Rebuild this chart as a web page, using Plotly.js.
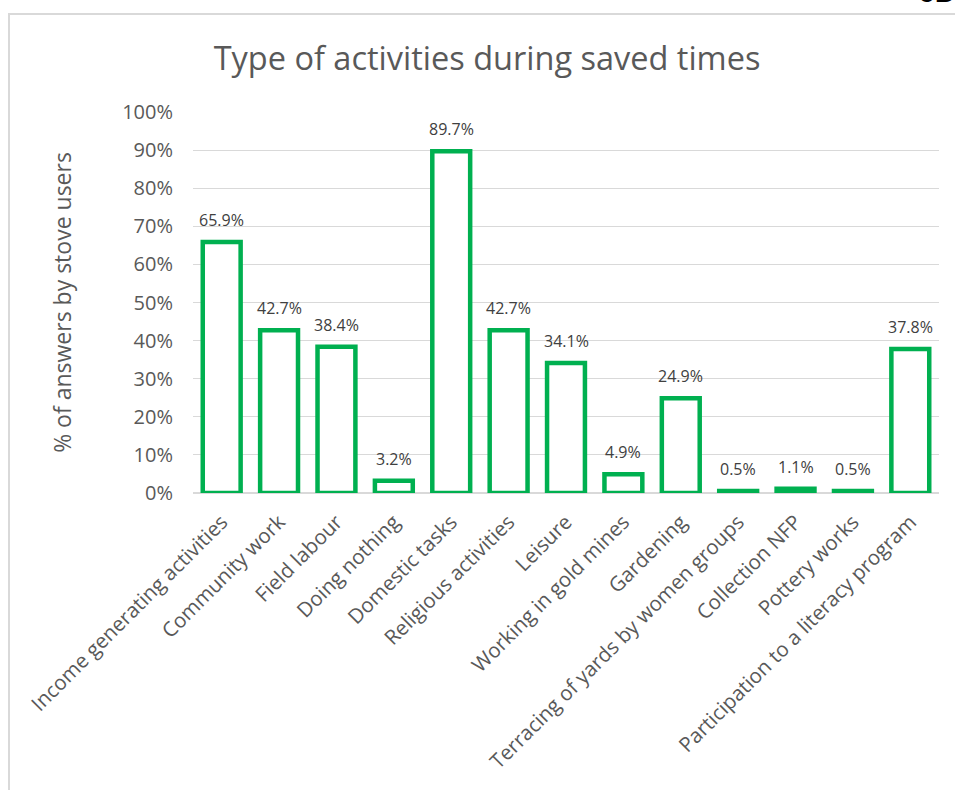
<!DOCTYPE html>
<html>
<head>
<meta charset="utf-8">
<script src="https://cdn.plot.ly/plotly-3.0.1.min.js"></script>
<style>
html,body{margin:0;padding:0;background:#fff;}
#wrap{position:relative;width:955px;height:790px;overflow:hidden;}
#chart{width:955px;height:790px;}
#frame{position:absolute;left:8px;top:13px;width:960px;height:800px;border-left:2px solid #d9d9d9;border-top:2px solid #d9d9d9;pointer-events:none;}
</style>
</head>
<body>
<div id="wrap">
<div id="chart"></div>
<div id="frame"></div>
</div>
<script>
const categories = [
  "Income generating activities",
  "Community work",
  "Field labour",
  "Doing nothing",
  "Domestic tasks",
  "Religious activities",
  "Leisure",
  "Working in gold mines",
  "Gardening",
  "Terracing of yards by women groups",
  "Collection NFP",
  "Pottery works",
  "Participation to a literacy program"
];
const values = [65.9, 42.7, 38.4, 3.2, 89.7, 42.7, 34.1, 4.9, 24.9, 0.5, 1.1, 0.5, 37.8];
const labels = values.map(v => v.toFixed(1) + "%");
const yTickVals = [0,10,20,30,40,50,60,70,80,90,100];
const yTickText = yTickVals.map(v => v + "%");

const FONT = "Open Sans, Liberation Sans, sans-serif";

const trace = {
  type: "bar",
  x: categories,
  y: values,
  marker: {color: "#ffffff", line: {color: "#00B050", width: 4.5}},
  width: 0.66,
  hoverinfo: "none"
};

const valueAnnotations = categories.map((c, i) => ({
  x: c, y: values[i], xref: "x", yref: "y",
  text: labels[i],
  showarrow: false,
  xanchor: "center", yanchor: "bottom",
  yshift: 9,
  font: {family: FONT, size: 16, color: "#404040"}
}));

const layout = {
  width: 955,
  height: 790,
  paper_bgcolor: "#ffffff",
  plot_bgcolor: "#ffffff",
  margin: {l: 193, r: 16, t: 112, b: 297},
  showlegend: false,
  title: {
    text: "Type of activities during saved times",
    font: {family: FONT, size: 32.5, color: "#595959"},
    x: 0.51, xanchor: "center",
    y: 0.926, yanchor: "middle"
  },
  xaxis: {
    type: "category",
    tickangle: -45,
    tickfont: {family: FONT, size: 20.5, color: "#595959"},
    showgrid: false,
    showline: false,
    ticks: "",
    ticklabelstandoff: 12,
    automargin: false
  },
  yaxis: {
    range: [0, 100],
    tickvals: yTickVals,
    ticktext: yTickText,
    tickfont: {family: FONT, size: 20, color: "#595959"},
    gridcolor: "#d9d9d9",
    gridwidth: 1,
    zeroline: true,
    zerolinecolor: "#d9d9d9",
    zerolinewidth: 2,
    showline: false,
    ticks: "",
    ticklabelstandoff: 19,
    automargin: false,
    title: {
      text: "% of answers by stove users",
      font: {family: FONT, size: 23, color: "#595959"},
      standoff: 44
    }
  },
  annotations: valueAnnotations.concat([{
    text: "<b>6D</b>",
    xref: "paper", yref: "paper",
    x: 0.997, y: 1.268,
    xanchor: "center", yanchor: "bottom",
    showarrow: false,
    font: {family: "Liberation Sans, sans-serif", size: 30, color: "#000000"}
  }])
};

Plotly.newPlot("chart", [trace], layout, {displayModeBar: false, staticPlot: true});
</script>
</body>
</html>
